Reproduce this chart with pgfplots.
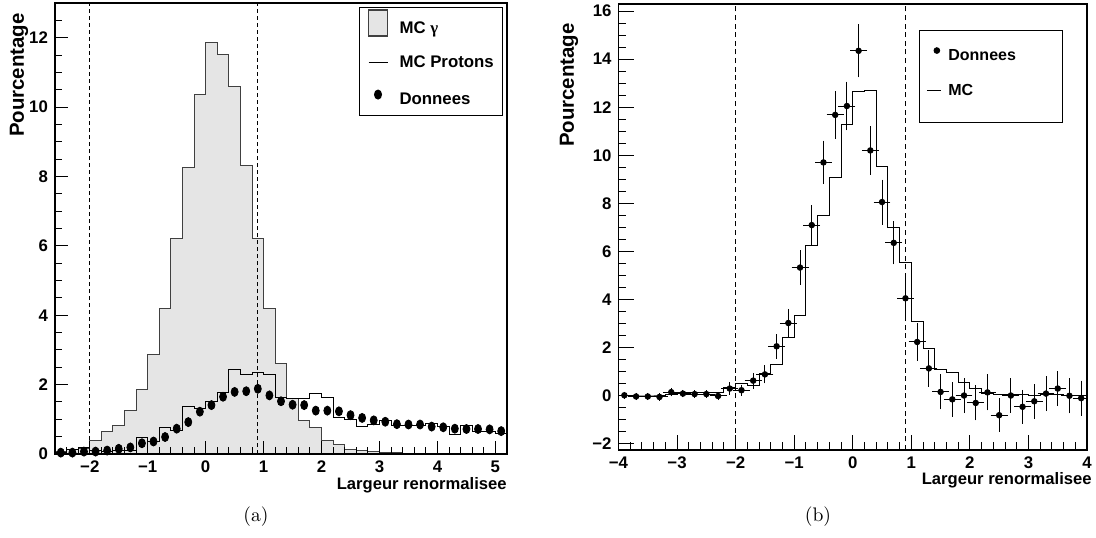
\documentclass[border=0pt]{standalone}
\usepackage{fontspec}
\usepackage{pgfplots}
\usepackage{pgfplotstable}
\pgfplotsset{compat=1.18}
\newfontfamily\rootfont{Liberation Sans}
\newfontfamily\grfont{Liberation Serif}
\newcommand\tickfont{\rootfont\bfseries\fontsize{8.4}{10}\selectfont}
\newcommand\titfont{\rootfont\bfseries\fontsize{8.3}{10}\selectfont}
\newcommand\ytitfont{\rootfont\bfseries\fontsize{10.2}{12}\selectfont}
\newcommand\legfont{\rootfont\bfseries\fontsize{8.4}{10}\selectfont}
\newcommand\legfontb{\rootfont\bfseries\fontsize{8}{10}\selectfont}
\newcommand\capfont{\fontsize{9.8}{12}\selectfont}

% Panel (a): MC gamma histogram (bin lower edge, content)
\pgfplotstableread{
x y
-2.6 0.08
-2.4 0.12
-2.2 0.17
-2.0 0.40
-1.8 0.64
-1.6 0.82
-1.4 1.25
-1.2 1.87
-1.0 2.88
-0.8 4.19
-0.6 6.21
-0.4 8.25
-0.2 10.35
0.0 11.86
0.2 11.52
0.4 10.60
0.6 8.31
0.8 6.20
1.0 4.18
1.2 2.61
1.4 1.59
1.6 0.97
1.8 0.77
2.0 0.40
2.2 0.27
2.4 0.14
2.6 0.10
2.8 0.06
3.0 0.04
3.2 0.03
3.4 0.02
3.6 0.02
3.8 0.01
4.0 0.01
4.2 0.01
4.4 0.00
4.6 0.00
4.8 0.00
5.0 0.00
5.2 0.00
}\gammatab

% Panel (a): MC protons histogram
\pgfplotstableread{
x y
-2.6 0.05
-2.4 0.12
-2.2 0.18
-2.0 0.09
-1.8 0.08
-1.6 0.09
-1.4 0.10
-1.2 0.47
-1.0 0.35
-0.8 0.76
-0.6 0.69
-0.4 1.37
-0.2 1.31
0.0 1.50
0.2 1.76
0.4 2.44
0.6 2.28
0.8 2.35
1.0 2.29
1.2 1.62
1.4 1.59
1.6 1.59
1.8 1.73
2.0 1.63
2.2 1.06
2.4 1.00
2.6 0.80
2.8 0.86
3.0 0.96
3.2 0.82
3.4 0.82
3.6 0.82
3.8 0.87
4.0 0.80
4.2 0.56
4.4 0.83
4.6 0.64
4.8 0.64
5.0 0.60
5.2 0.60
}\protab

% Panel (a): data points
\pgfplotstableread{
x y
-2.5 0.04
-2.3 0.04
-2.1 0.07
-1.9 0.07
-1.7 0.10
-1.5 0.15
-1.3 0.19
-1.1 0.31
-0.9 0.36
-0.7 0.49
-0.5 0.73
-0.3 0.92
-0.1 1.22
0.1 1.41
0.3 1.65
0.5 1.79
0.7 1.81
0.9 1.88
1.1 1.69
1.3 1.52
1.5 1.42
1.7 1.41
1.9 1.25
2.1 1.25
2.3 1.23
2.5 1.12
2.7 1.04
2.9 0.97
3.1 0.93
3.3 0.86
3.5 0.85
3.7 0.85
3.9 0.79
4.1 0.77
4.3 0.73
4.5 0.72
4.7 0.72
4.9 0.71
5.1 0.66
}\dataa

% Panel (b): MC histogram
\pgfplotstableread{
x y
-4.0 -0.03
-3.8 -0.03
-3.6 -0.03
-3.4 -0.03
-3.2 0.04
-3.0 0.12
-2.8 0.12
-2.6 0.12
-2.4 0.12
-2.2 0.31
-2.0 0.49
-1.8 0.41
-1.6 0.89
-1.4 1.28
-1.2 2.42
-1.0 3.34
-0.8 6.22
-0.6 7.49
-0.4 9.07
-0.2 11.27
0.0 12.65
0.2 12.68
0.4 9.54
0.6 6.97
0.8 5.55
1.0 3.09
1.2 1.96
1.4 1.08
1.6 0.94
1.8 0.55
2.0 0.27
2.2 0.08
2.4 0.03
2.6 0.02
2.8 0.02
3.0 0.01
3.2 0.02
3.4 0.02
3.6 0.01
3.8 -0.02
4.0 -0.02
}\mctab

% Panel (b): data with errors
\pgfplotstableread{
x y ey
-3.9 0.00 0.04
-3.7 -0.05 0.04
-3.5 -0.05 0.04
-3.3 -0.07 0.05
-3.1 0.13 0.07
-2.9 0.07 0.05
-2.7 0.05 0.05
-2.5 0.05 0.05
-2.3 -0.03 0.06
-2.1 0.28 0.15
-1.9 0.21 0.12
-1.7 0.61 0.22
-1.5 0.87 0.27
-1.3 2.04 0.40
-1.1 3.01 0.48
-0.9 5.32 0.61
-0.7 7.09 0.71
-0.5 9.70 0.80
-0.3 11.68 0.88
-0.1 12.05 0.91
0.1 14.35 1.00
0.3 10.20 0.90
0.5 8.05 0.83
0.7 6.35 0.79
0.9 4.04 0.75
1.1 2.22 0.68
1.3 1.12 0.66
1.5 0.14 0.62
1.7 -0.17 0.61
1.9 -0.01 0.62
2.1 -0.32 0.62
2.3 0.12 0.64
2.5 -0.83 0.59
2.7 -0.01 0.61
2.9 -0.48 0.60
3.1 -0.25 0.61
3.3 0.07 0.62
3.5 0.28 0.62
3.7 -0.02 0.63
3.9 -0.12 0.62
}\datab

\pgfplotsset{rootaxis/.style={
  scale only axis, axis on top,
  xtick pos=left, ytick pos=left,
  tick align=inside,
  major tick length=6.5pt, minor tick length=3.5pt,
  every tick/.style={black, line width=0.5pt},
  axis line style={line width=0.6pt},
  tick label style={font=\tickfont},
  /pgf/number format/assume math mode=true,
  legend cell align=left,
}}

\begin{document}
\begin{tikzpicture}
\useasboundingbox (0,0) rectangle (548pt,268.5pt);

% ---------------- Panel (a) ----------------
\begin{axis}[rootaxis,
  at={(27.5pt,41.5pt)}, anchor=south west,
  width=226pt, height=225.5pt,
  xmin=-2.6, xmax=5.2, ymin=0, ymax=13,
  xtick={-2,-1,0,1,2,3,4,5},
  xticklabels={−2,−1,0,1,2,3,4,5},
  minor xtick={-2.6,-2.4,...,5.2},
  ytick={0,2,4,6,8,10,12},
  yticklabels={0,2,4,6,8,10,12},
  minor ytick={0,0.5,...,13},
  legend style={at={(rel axis cs:0.6726,0.991)}, anchor=north west,
    draw=black, line width=0.5pt, fill=white,
    inner xsep=0pt, inner ysep=0pt, row sep=0pt, column sep=0pt,
    font=\legfont, nodes={inner sep=0pt, text depth=, text height=}},
]
\addplot[const plot, draw=black!75, line width=0.5pt, fill=gray!20,
  legend image code/.code={
    \path[draw=none,fill=none] (0pt,-1pt) rectangle (20pt,1pt);
    \draw[fill=gray!20, draw=black!75, line width=0.6pt] (4.5pt,-3.5pt) rectangle (14pt,9.5pt);}]
  table[x=x,y=y] {\gammatab} \closedcycle;
\addlegendentry{\makebox[51.5pt][l]{\rule[-8.5pt]{0pt}{21.5pt}MC {\grfont γ}}}

\addplot[const plot, black, line width=0.5pt,
  legend image code/.code={
    \path[draw=none,fill=none] (0pt,-1pt) rectangle (20pt,1pt);
    \draw[black, line width=0.5pt] (4.5pt,3pt) -- (14pt,3pt);}]
  table[x=x,y=y] {\protab};
\addlegendentry{\makebox[51.5pt][l]{\rule[-9pt]{0pt}{17.5pt}MC Protons}}

\addplot[forget plot, black, line width=0.5pt, dash pattern=on 2pt off 1.5pt]
  coordinates {(-2.0,0) (-2.0,13)};
\addplot[forget plot, black, line width=0.5pt, dash pattern=on 2pt off 1.5pt]
  coordinates {(0.9,0) (0.9,13)};

\addplot[only marks, mark=*, black, mark size=1.75pt, mark options={yscale=1.29},
  legend image code/.code={
    \path[draw=none,fill=none] (0pt,-1pt) rectangle (20pt,1pt);
    \fill[black] (9.25pt,3pt) ellipse (1.75pt and 2.25pt);}]
  table[x=x,y=y] {\dataa};
\addlegendentry{\makebox[51.5pt][l]{\rule[-5.5pt]{0pt}{15pt}Donnees}}
\end{axis}

% ---------------- Panel (b) ----------------
\begin{axis}[rootaxis,
  at={(309.25pt,43.5pt)}, anchor=south west,
  width=234.25pt, height=223pt,
  xmin=-4, xmax=4, ymin=-2.28, ymax=16.3,
  xtick={-4,-3,-2,-1,0,1,2,3,4},
  xticklabels={−4,−3,−2,−1,0,1,2,3,4},
  minor xtick={-4,-3.8,...,4},
  ytick={-2,0,2,4,6,8,10,12,14,16},
  yticklabels={−2,0,2,4,6,8,10,12,14,16},
  minor ytick={-2,-1.5,...,16},
  major tick length=7.5pt, minor tick length=3.8pt,
  reverse legend,
  legend style={at={(rel axis cs:0.642,0.9406)}, anchor=north west,
    draw=black, line width=0.5pt, fill=white,
    inner xsep=0pt, inner ysep=0pt, row sep=0pt, column sep=0pt,
    font=\legfontb, nodes={inner sep=0pt, text depth=, text height=}},
]
\addplot[const plot, black, line width=0.5pt,
  legend image code/.code={
    \path[draw=none,fill=none] (0pt,-1pt) rectangle (14.3pt,1pt);
    \draw[black, line width=0.5pt] (3.5pt,2.8pt) -- (10.8pt,2.8pt);}]
  table[x=x,y=y] {\mctab};
\addlegendentry{\makebox[57.2pt][l]{\rule[-13.7pt]{0pt}{26.2pt}MC}}

\addplot[forget plot, black, line width=0.5pt, dash pattern=on 2.5pt off 1.8pt]
  coordinates {(-2.0,-2.28) (-2.0,16.3)};
\addplot[forget plot, black, line width=0.5pt, dash pattern=on 2.5pt off 1.8pt]
  coordinates {(0.9,-2.28) (0.9,16.3)};

\addplot[only marks, mark=*, black, mark size=1.4pt,
  error bars/.cd, y dir=both, y explicit, x dir=both, x fixed=0.1,
  error bar style={line width=0.5pt, black},
  error mark options={black, mark size=1.3pt, line width=0.5pt}]
  table[x=x,y=y,y error=ey] {\datab};
\addlegendentry{\makebox[57.2pt][l]{\rule[-5pt]{0pt}{19.55pt}Donnees}}
\end{axis}

% axis titles
\node[rotate=90, anchor=east, font=\ytitfont, inner sep=0pt] at (9.5pt,262pt) {Pourcentage};
\node[anchor=east, font=\titfont, inner sep=0pt] at (253.5pt,26pt) {Largeur renormalisee};
\node[rotate=90, anchor=east, font=\ytitfont, inner sep=0pt] at (284.5pt,257pt) {Pourcentage};
\node[anchor=east, font=\titfont, inner sep=0pt] at (546pt,28.5pt) {Largeur renormalisee};

% sub-captions
\node[font=\capfont] at (128pt,10pt) {(a)};
\node[font=\capfont] at (409pt,10pt) {(b)};
\end{tikzpicture}
\end{document}
